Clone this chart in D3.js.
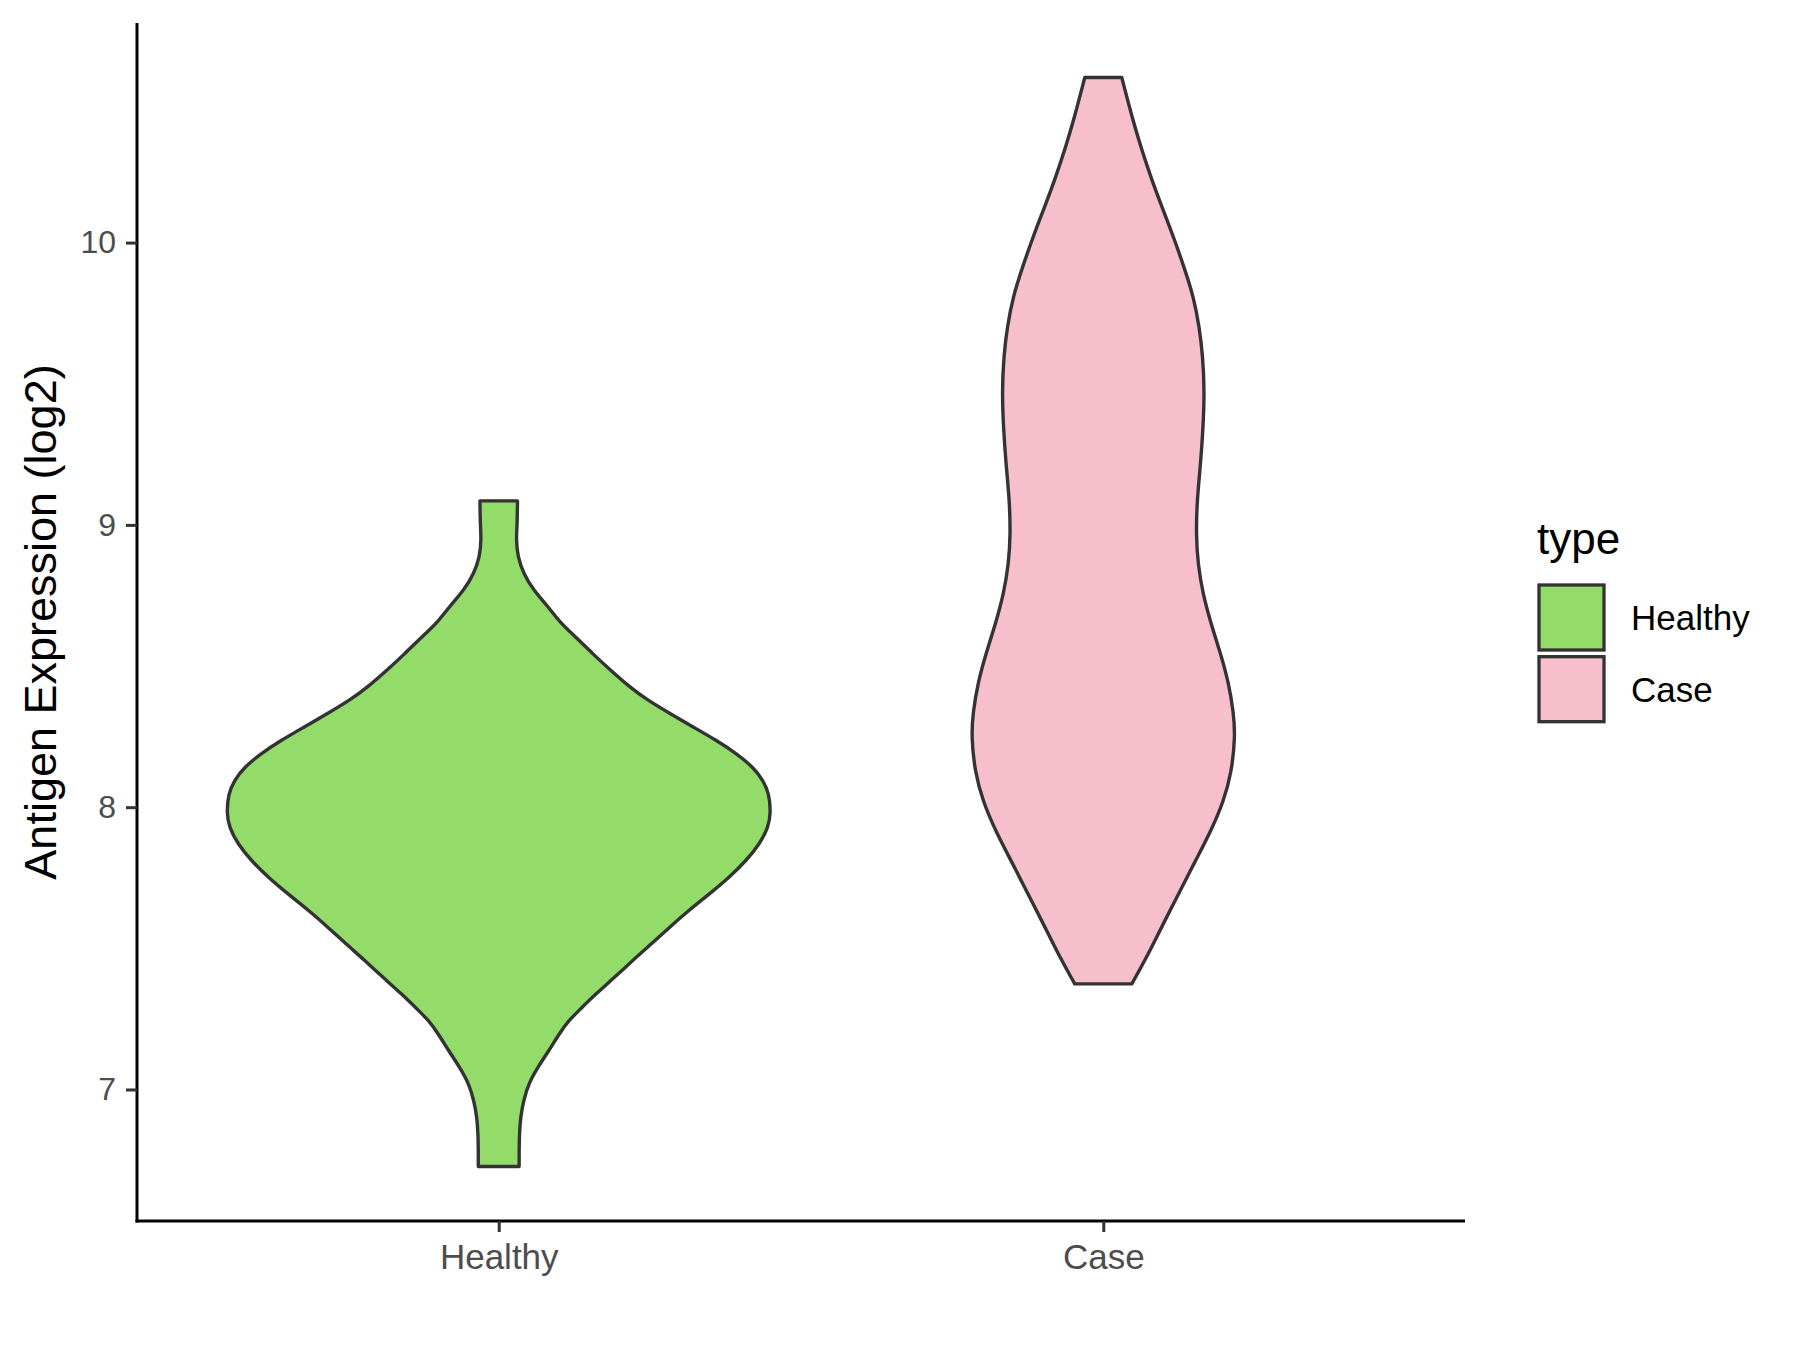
<!DOCTYPE html>
<html>
<head>
<meta charset="utf-8">
<script src="https://cdn.jsdelivr.net/npm/d3@7"></script>
<style>
  body { margin: 0; background: #fff; }
  svg { display: block; font-family: Arial, 'Liberation Sans', sans-serif; }
</style>
</head>
<body>
<svg width="1800" height="1350"></svg>
<script>
// groups and colours
var groups = ['Healthy', 'Case']
var fills = ['#94DC6A', '#F7BFCB']
var yTicks = [7, 8, 9, 10]

// violin profiles: expression value and relative density
var healthyValues = [9.085, 9.006, 8.946, 8.887, 8.828, 8.769, 8.710, 8.651, 8.603, 8.544, 8.485, 8.426, 8.379, 8.332,
  8.284, 8.237, 8.190, 8.142, 8.095, 8.048, 7.979, 7.929, 7.871, 7.811, 7.752, 7.693, 7.634, 7.575, 7.516, 7.457,
  7.397, 7.338, 7.279, 7.244, 7.197, 7.137, 7.078, 7.019, 6.960, 6.901, 6.842, 6.783, 6.727]
var healthyDensity = [0.069, 0.068, 0.064, 0.070, 0.091, 0.127, 0.182, 0.228, 0.283, 0.345, 0.411, 0.481, 0.547, 0.629,
  0.715, 0.800, 0.874, 0.935, 0.972, 0.994, 1.000, 0.991, 0.960, 0.910, 0.848, 0.775, 0.698, 0.628, 0.562, 0.492,
  0.426, 0.356, 0.294, 0.257, 0.222, 0.184, 0.143, 0.109, 0.091, 0.080, 0.076, 0.075, 0.075]

var caseValues = [10.585, 10.436, 10.33, 10.223, 10.123, 10.018, 9.913, 9.808, 9.702, 9.597, 9.471, 9.345, 9.219, 9.092,
  8.966, 8.861, 8.756, 8.650, 8.545, 8.440, 8.335, 8.251, 8.125, 8.019, 7.914, 7.809, 7.704, 7.598, 7.493, 7.374]
var caseDensity = [0.068, 0.108, 0.141, 0.178, 0.217, 0.259, 0.297, 0.332, 0.353, 0.366, 0.372, 0.367, 0.358, 0.345,
  0.341, 0.348, 0.366, 0.396, 0.431, 0.461, 0.479, 0.485, 0.472, 0.442, 0.395, 0.338, 0.283, 0.226, 0.173, 0.105]

var chart = () => {
  var svg = d3.select('svg')
  var margin = {top: 23, right: 335, bottom: 129, left: 137}
  var width = 1800
  var height = 1350

  var profiles = [
    {group: 'Healthy', values: healthyValues, density: healthyDensity},
    {group: 'Case', values: caseValues, density: caseDensity}
  ]

  var lo = d3.min(profiles, p => d3.min(p.values))
  var hi = d3.max(profiles, p => d3.max(p.values))
  var pad = (hi - lo) * 0.05

  var y = d3.scaleLinear()
    .domain([lo - pad, hi + pad])
    .range([height - margin.bottom, margin.top])

  var x = d3.scalePoint()
    .domain(groups)
    .range([margin.left - 1, width - margin.right + 1])
    .padding(0.6)

  var maxDensity = d3.max(profiles, p => d3.max(p.density))
  var w = d3.scaleLinear()
    .domain([0, maxDensity])
    .range([0, x.step() * 0.45])

  var color = d3.scaleOrdinal().domain(groups).range(fills)

  // violins
  profiles.forEach(p => {
    var pts = p.values.map((v, i) => ({v: v, d: p.density[i]}))
    var cx = x(p.group)
    var area = d3.area()
      .y(d => y(d.v))
      .x0(d => cx - w(d.d))
      .x1(d => cx + w(d.d))
      .curve(d3.curveBasis)
    svg.append('path')
      .datum(pts)
      .attr('d', area)
      .attr('fill', color(p.group))
      .attr('stroke', '#333333')
      .attr('stroke-width', 3.4)
      .attr('stroke-linejoin', 'round')
  })

  // axes
  var yAxis = svg.append('g')
    .attr('transform', `translate(${margin.left}, 0)`)
    .call(d3.axisLeft(y).tickValues(yTicks).tickFormat(d3.format('d')).tickSize(11).tickPadding(10).tickSizeOuter(0))
  var xAxis = svg.append('g')
    .attr('transform', `translate(0, ${height - margin.bottom})`)
    .call(d3.axisBottom(x).tickSize(11).tickPadding(10).tickSizeOuter(0))

  ;[yAxis, xAxis].forEach(g => {
    g.select('.domain').attr('stroke', '#000').attr('stroke-width', 3)
    g.selectAll('.tick line').attr('stroke', '#333333').attr('stroke-width', 3)
    g.selectAll('.tick text').attr('fill', '#4D4D4D').attr('font-family', 'Arial, Liberation Sans, sans-serif')
  })
  yAxis.selectAll('.tick text').attr('font-size', 32)
  xAxis.selectAll('.tick text').attr('font-size', 35).attr('dy', '0.77em')

  // extend axis lines to meet at the corner
  yAxis.select('.domain').attr('d', `M0,${margin.top}V${height - margin.bottom + 1.5}`)
  xAxis.select('.domain').attr('d', `M${margin.left - 1.5},0H${width - margin.right}`)

  svg.append('text')
    .attr('transform', `translate(56, ${(margin.top + height - margin.bottom) / 2}) rotate(-90)`)
    .attr('text-anchor', 'middle')
    .attr('font-size', 45)
    .attr('fill', '#000')
    .text('Antigen Expression (log2)')

  // legend
  var legend = svg.append('g').attr('transform', 'translate(1539, 585)')
  legend.append('text')
    .attr('x', -2)
    .attr('y', -31)
    .attr('font-size', 44)
    .attr('fill', '#000')
    .text('type')
  var keys = legend.selectAll('g.key').data(groups).enter().append('g')
    .attr('class', 'key')
    .attr('transform', (d, i) => `translate(0, ${i * 71.7})`)
  keys.append('rect')
    .attr('width', 65)
    .attr('height', 65)
    .attr('fill', d => color(d))
    .attr('stroke', '#333333')
    .attr('stroke-width', 3.3)
  keys.append('text')
    .attr('x', 92)
    .attr('y', 33)
    .attr('dy', '0.35em')
    .attr('font-size', 35)
    .attr('fill', '#000')
    .text(d => d)
}

chart()
</script>
</body>
</html>
